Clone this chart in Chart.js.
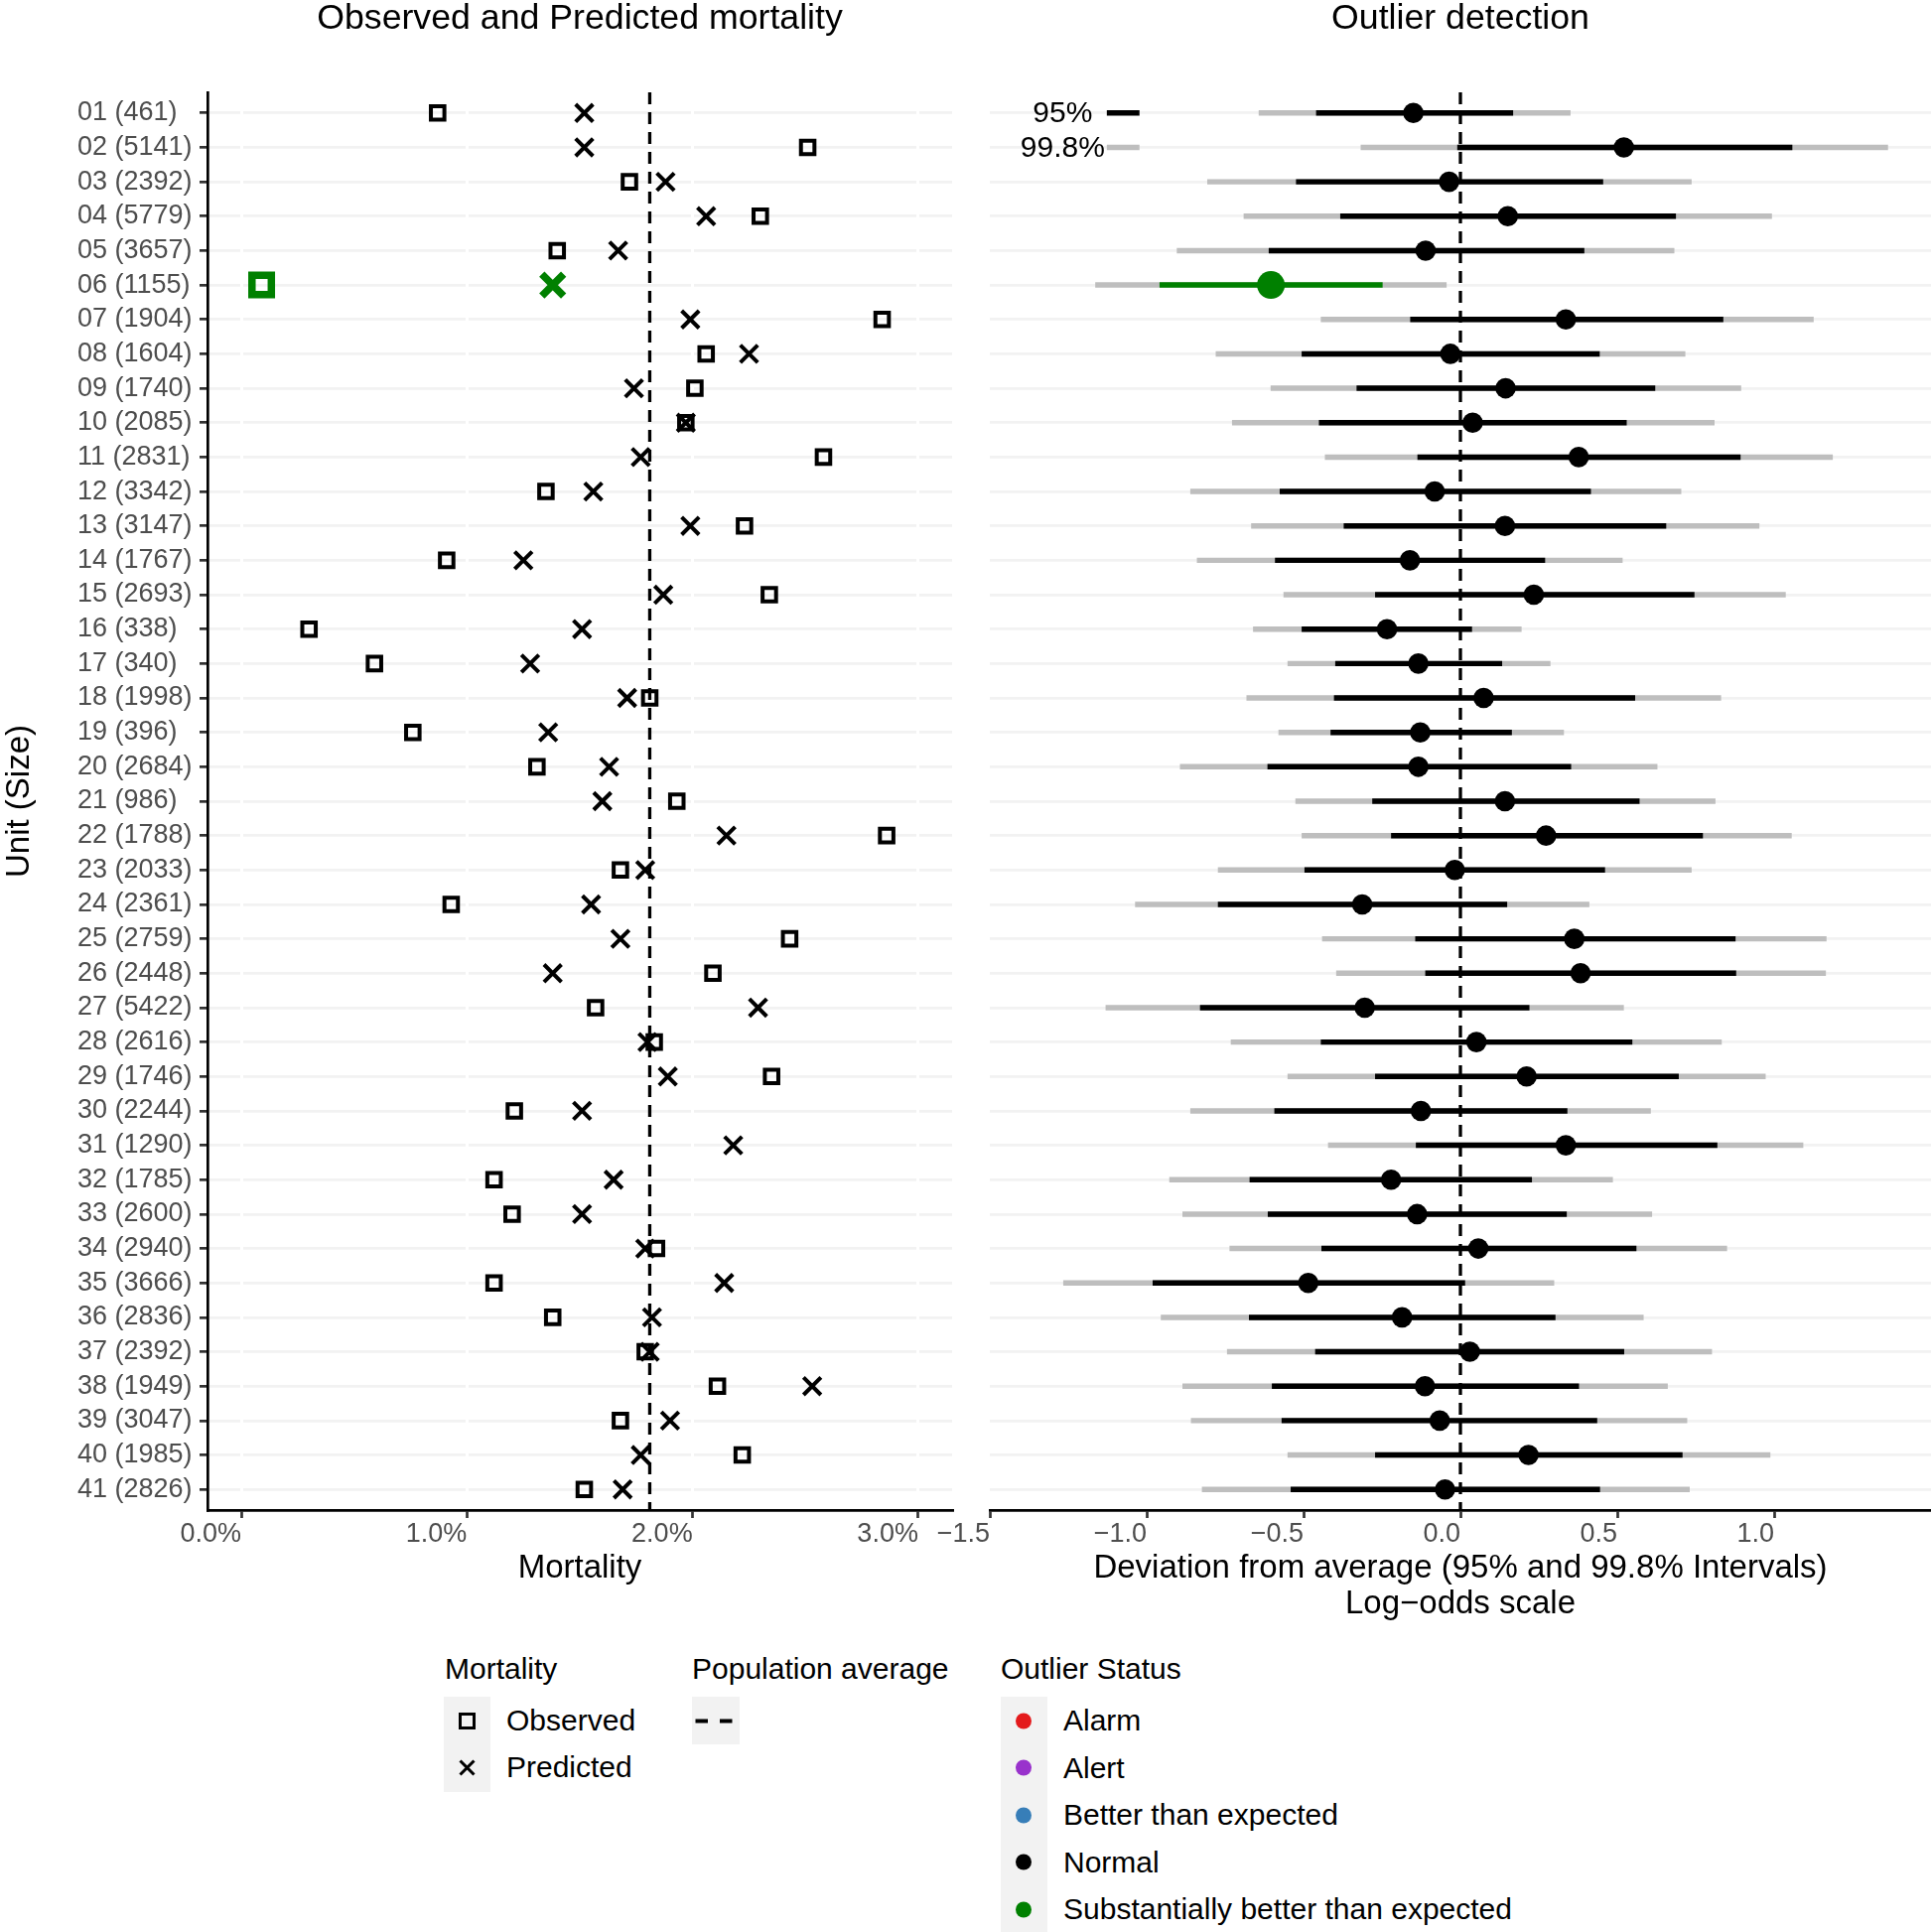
<!DOCTYPE html>
<html>
<head>
<meta charset="utf-8">
<title>Observed and Predicted mortality / Outlier detection</title>
<script src="https://cdn.jsdelivr.net/npm/chart.js@4.4.1/dist/chart.umd.min.js"></script>
<style>
  html, body { margin:0; padding:0; background:#fff; }
  body { width:1945px; height:1946px; position:relative; overflow:hidden; font-family:"Liberation Sans", Arial, sans-serif; color:#000; }
  canvas { position:absolute; top:0; }
  #left-chart { left:0; }
  #right-chart { left:900px; }
  .txt { position:absolute; white-space:nowrap; }
  .panel-title { top:0; width:800px; font-size:35.7px; line-height:35px; text-align:center; }
  .y-title { left:-182px; top:787px; width:400px; height:40px; font-size:33px; line-height:40px; text-align:center; transform:rotate(-90deg); }
  .leg-title { font-size:30px; line-height:30px; top:1666px; }
  .leg-label { font-size:30px; line-height:30px; }
  .key-bg { position:absolute; background:#F2F2F2; }
  .key-glyph { position:absolute; }
</style>
</head>
<body>
<canvas id="left-chart" width="980" height="1640"></canvas>
<canvas id="right-chart" width="1045" height="1640"></canvas>
<div class="txt panel-title" style="left:184px">Observed and Predicted mortality</div>
<div class="txt panel-title" style="left:1071px">Outlier detection</div>
<div class="txt y-title">Unit (Size)</div>
<div id="legend"></div>
<script>
// units and their sizes (row order, top to bottom)
const units = ["01","02","03","04","05","06","07","08","09","10","11","12","13","14","15","16","17","18","19","20",
  "21","22","23","24","25","26","27","28","29","30","31","32","33","34","35","36","37","38","39","40","41"];
const unitSizes = [461,5141,2392,5779,3657,1155,1904,1604,1740,2085,2831,3342,3147,1767,2693,338,340,1998,396,2684,
  986,1788,2033,2361,2759,2448,5422,2616,1746,2244,1290,1785,2600,2940,3666,2836,2392,1949,3047,1985,2826];

// mortality in % (unit 31 observed is outside the axis limits)
const observed = [0.87,2.51,1.72,2.30,1.40,0.09,2.84,2.06,2.01,1.97,2.58,1.35,2.23,0.91,2.34,0.30,0.59,1.81,0.76,1.31,
  1.93,2.86,1.68,0.93,2.43,2.09,1.57,1.83,2.35,1.21,null,1.12,1.20,1.84,1.12,1.38,1.79,2.11,1.68,2.22,1.52];
const predicted = [1.52,1.52,1.88,2.06,1.67,1.38,1.99,2.25,1.74,1.97,1.77,1.56,1.99,1.25,1.87,1.51,1.28,1.71,1.36,1.63,
  1.60,2.15,1.79,1.55,1.68,1.38,2.29,1.80,1.89,1.51,2.18,1.65,1.51,1.79,2.14,1.82,1.81,2.53,1.90,1.77,1.69];
const popAverage = 1.81;

// deviation from average, log-odds scale
const devEstimate = [-0.150,0.521,-0.036,0.151,-0.111,-0.604,0.336,-0.032,0.144,0.039,0.377,-0.082,0.142,-0.161,0.234,
  -0.234,-0.134,0.074,-0.128,-0.134,0.142,0.273,-0.018,-0.313,0.363,0.383,-0.305,0.051,0.211,-0.126,0.336,-0.221,
  -0.138,0.057,-0.485,-0.186,0.030,-0.113,-0.066,0.217,-0.049];
const lo95 = [-0.459,-0.009,-0.523,-0.382,-0.610,-0.958,-0.159,-0.505,-0.330,-0.450,-0.136,-0.575,-0.371,-0.590,-0.271,
  -0.505,-0.398,-0.402,-0.413,-0.614,-0.280,-0.220,-0.496,-0.772,-0.143,-0.111,-0.829,-0.444,-0.271,-0.592,-0.141,
  -0.671,-0.613,-0.442,-0.980,-0.673,-0.462,-0.600,-0.569,-0.271,-0.540];
const hi95 = [0.167,1.057,0.454,0.686,0.394,-0.249,0.837,0.443,0.620,0.529,0.892,0.415,0.655,0.269,0.745,0.036,0.132,
  0.556,0.163,0.352,0.570,0.772,0.460,0.148,0.876,0.878,0.219,0.547,0.695,0.340,0.818,0.227,0.338,0.560,0.014,0.302,
  0.521,0.377,0.435,0.707,0.444];
const lo998 = [-0.642,-0.317,-0.806,-0.690,-0.903,-1.163,-0.444,-0.779,-0.604,-0.727,-0.431,-0.860,-0.666,-0.839,-0.563,
  -0.660,-0.550,-0.681,-0.579,-0.893,-0.525,-0.505,-0.772,-1.036,-0.440,-0.395,-1.130,-0.731,-0.550,-0.860,-0.421,
  -0.927,-0.885,-0.735,-1.265,-0.954,-0.743,-0.885,-0.858,-0.550,-0.823];
const hi998 = [0.350,1.362,0.736,0.992,0.681,-0.045,1.125,0.716,0.894,0.809,1.186,0.703,0.952,0.516,1.036,0.194,0.286,
  0.830,0.329,0.627,0.812,1.055,0.736,0.410,1.166,1.164,0.520,0.832,0.972,0.606,1.092,0.485,0.610,0.849,0.298,0.583,
  0.801,0.660,0.722,0.987,0.730];

const status = ["Normal","Normal","Normal","Normal","Normal","Substantially better than expected","Normal","Normal",
  "Normal","Normal","Normal","Normal","Normal","Normal","Normal","Normal","Normal","Normal","Normal","Normal","Normal",
  "Normal","Normal","Normal","Normal","Normal","Normal","Normal","Normal","Normal","Normal","Normal","Normal","Normal",
  "Normal","Normal","Normal","Normal","Normal","Normal","Normal"];
const statusLevels = ["Alarm","Alert","Better than expected","Normal","Substantially better than expected"];
const statusColors = ["#E41A1C","#9932CC","#377EB8","#000000","#008000"];

// axis ticks
const mortalityTicks = [0,1,2,3];
const deviationTicks = [-1.5,-1,-0.5,0,0.5,1];

// in-panel interval key (rows 1 and 2)
const keyLabels = ["95%","99.8%"];
const keyRows = [1,2];
const keyLabelX = -1.268;
const keySegment = [-1.126,-1.024];

const FONT = '"Liberation Sans", Arial, sans-serif';
Chart.defaults.font.family = FONT;

const rowLabels = units.map((u,i)=> u + " (" + unitSizes[i] + ")");
const colorOf = s => statusColors[statusLevels.indexOf(s)];
const isNormal = i => status[i] === "Normal";
const minusFmt = v => (v < 0 ? "\u2212" : "") + Math.abs(v).toFixed(1);

function rowScale(extra){
  return Object.assign({
    type: "linear", reverse: true, min: 0.4, max: 41.6, offset: false,
    afterBuildTicks: s => { s.ticks = units.map((u,i)=>({ value: i + 1 })); }
  }, extra);
}

// ---------- left panel ----------
const obsIdx = observed.map((v,i)=> v === null ? -1 : i).filter(i=> i >= 0);
const predIdx = predicted.map((v,i)=> i);

new Chart(document.getElementById("left-chart"), {
  type: "scatter",
  data: { datasets: [
    {
      label: "Predicted",
      data: predIdx.map(i=>({ x: predicted[i], y: i + 1 })),
      pointStyle: "crossRot",
      pointRadius: predIdx.map(i=> isNormal(i) ? 12.4 : 15.5),
      pointBorderWidth: predIdx.map(i=> isNormal(i) ? 4 : 7.5),
      pointBorderColor: predIdx.map(i=> colorOf(status[i])),
      pointBackgroundColor: "rgba(0,0,0,0)",
      order: 0
    },
    {
      label: "Observed",
      data: obsIdx.map(i=>({ x: observed[i], y: i + 1 })),
      pointStyle: "rect",
      pointRadius: obsIdx.map(i=> isNormal(i) ? 9.6 : 13.8),
      pointBorderWidth: obsIdx.map(i=> isNormal(i) ? 4 : 7.5),
      pointBorderColor: obsIdx.map(i=> colorOf(status[i])),
      pointBackgroundColor: "rgba(0,0,0,0)",
      order: 1
    },
    {
      type: "line",
      label: "Population average",
      data: [{ x: popAverage, y: 0.4 }, { x: popAverage, y: 41.6 }],
      borderColor: "#000", borderWidth: 3.3, borderDash: [12, 8],
      pointRadius: 0, fill: false, order: 2
    }
  ]},
  options: {
    responsive: false, animation: false,
    layout: { autoPadding: false, padding: { left: 78, top: 93, right: 21, bottom: 42 } },
    plugins: { legend: { display: false }, tooltip: { enabled: false } },
    scales: {
      y: rowScale({
        afterFit: s => { s.width = 131; },
        ticks: { autoSkip: false, crossAlign: "far", color: "#4D4D4D", font: { size: 27 }, callback: v => rowLabels[v - 1] },
        grid: { color: "#F2F2F2", lineWidth: 2.7, tickColor: "#333333", tickLength: 8, tickWidth: 2.7 },
        border: { color: "#000", width: 2.7 }
      }),
      x: {
        type: "linear", min: -0.15, max: 3.15,
        afterBuildTicks: s => { s.ticks = mortalityTicks.map(v=>({ value: v })); },
        afterFit: s => { s.height = 77; },
        ticks: { align: "end", padding: 0, color: "#4D4D4D", font: { size: 27 }, callback: v => v.toFixed(1) + "%" },
        grid: { z: -0.5, color: "#FFFFFF", lineWidth: 3, tickColor: "#333333", tickLength: 8, tickWidth: 2.7 },
        border: { color: "#000", width: 2.7 },
        title: { display: true, text: "Mortality", color: "#000", padding: 0, font: { size: 33, lineHeight: 1.09 } }
      }
    }
  }
});

// ---------- right panel ----------
const keyTextPlugin = {
  id: "keyText",
  afterDatasetsDraw(chart){
    const { ctx, scales: { x, y } } = chart;
    ctx.save();
    ctx.font = "30px " + FONT;
    ctx.fillStyle = "#000";
    ctx.textAlign = "center";
    ctx.textBaseline = "middle";
    keyLabels.forEach((t,i)=> ctx.fillText(t, x.getPixelForValue(keyLabelX), y.getPixelForValue(keyRows[i]) + 1));
    ctx.restore();
  }
};

const rows = units.map((u,i)=> i);
const barCommon = { type: "bar", indexAxis: "y", grouped: false, barThickness: 4.8, borderWidth: 0 };

new Chart(document.getElementById("right-chart"), {
  type: "scatter",
  data: { datasets: [
    {
      label: "Estimate",
      data: rows.map(i=>({ x: devEstimate[i], y: i + 1 })),
      pointStyle: "circle",
      pointRadius: rows.map(i=> isNormal(i) ? 10.3 : 14),
      pointBorderWidth: 0,
      pointBackgroundColor: rows.map(i=> colorOf(status[i])),
      order: 0
    },
    Object.assign({}, barCommon, {
      label: "95%",
      data: rows.map(i=>({ x: [lo95[i], hi95[i]], y: i + 1 })),
      backgroundColor: rows.map(i=> colorOf(status[i])),
      order: 2
    }),
    Object.assign({}, barCommon, {
      label: "99.8%",
      data: rows.map(i=>({ x: [lo998[i], hi998[i]], y: i + 1 })),
      backgroundColor: "#BEBEBE",
      order: 3
    }),
    Object.assign({}, barCommon, {
      label: "key 95%",
      data: [{ x: keySegment, y: keyRows[0] }],
      backgroundColor: "#000",
      order: 2
    }),
    Object.assign({}, barCommon, {
      label: "key 99.8%",
      data: [{ x: keySegment, y: keyRows[1] }],
      backgroundColor: "#BEBEBE",
      order: 3
    }),
    {
      type: "line",
      label: "zero",
      data: [{ x: 0, y: 0.4 }, { x: 0, y: 41.6 }],
      borderColor: "#000", borderWidth: 3.3, borderDash: [12, 8],
      pointRadius: 0, fill: false, order: 1
    }
  ]},
  plugins: [keyTextPlugin],
  options: {
    responsive: false, animation: false,
    layout: { autoPadding: false, padding: { left: 97, top: 93, right: 0, bottom: 6 } },
    plugins: { legend: { display: false }, tooltip: { enabled: false } },
    scales: {
      y: rowScale({
        afterFit: s => { s.width = 0; },
        ticks: { display: false },
        grid: { offset: false, color: "#F2F2F2", lineWidth: 2.7, drawTicks: false },
        border: { display: false }
      }),
      x: {
        type: "linear", min: -1.5, max: 1.5,
        afterBuildTicks: s => { s.ticks = deviationTicks.map(v=>({ value: v })); },
        afterFit: s => { s.height = 113; },
        ticks: { align: "end", padding: 0, color: "#4D4D4D", font: { size: 27 }, callback: v => minusFmt(v) },
        grid: { drawOnChartArea: false, tickColor: "#333333", tickLength: 8, tickWidth: 2.7 },
        border: { color: "#000", width: 2.7 },
        title: { display: true, color: "#000", padding: 0, font: { size: 33, lineHeight: 1.09 },
          text: ["Deviation from average (95% and 99.8% Intervals)", "Log\u2212odds scale"] }
      }
    }
  }
});

// ---------- legends (bottom) ----------
const legend = document.getElementById("legend");
function add(html){ legend.insertAdjacentHTML("beforeend", html); }
function keyRow(left, cy, glyph, label){
  add(`<svg class="key-glyph" width="47" height="47" style="left:${left}px;top:${cy - 23.5}px">${glyph}</svg>`);
  if(label) add(`<div class="txt leg-label" style="left:${left + 63}px;top:${cy - 15}px">${label}</div>`);
}

// Mortality
add(`<div class="txt leg-title" style="left:448px">Mortality</div>`);
add(`<div class="key-bg" style="left:447px;top:1709px;width:47px;height:96px"></div>`);
keyRow(447, 1733, `<rect x="16.5" y="16.5" width="14" height="14" fill="none" stroke="#000" stroke-width="3"/>`, "Observed");
keyRow(447, 1780, `<path d="M16.5 16.5 L30.5 30.5 M30.5 16.5 L16.5 30.5" stroke="#000" stroke-width="3" fill="none"/>`, "Predicted");

// Population average
add(`<div class="txt leg-title" style="left:697px">Population average</div>`);
add(`<div class="key-bg" style="left:697px;top:1709px;width:48px;height:48px"></div>`);
keyRow(697, 1733, `<line x1="3.5" y1="23.5" x2="42" y2="23.5" stroke="#000" stroke-width="4" stroke-dasharray="12.5 12"/>`, "");

// Outlier Status
add(`<div class="txt leg-title" style="left:1008px">Outlier Status</div>`);
add(`<div class="key-bg" style="left:1008px;top:1709px;width:47px;height:237px"></div>`);
statusLevels.forEach((s,i)=>{
  keyRow(1008, 1733 + i * 47.5, `<circle cx="23" cy="23.5" r="8" fill="${statusColors[i]}"/>`, s);
});
</script>
</body>
</html>
